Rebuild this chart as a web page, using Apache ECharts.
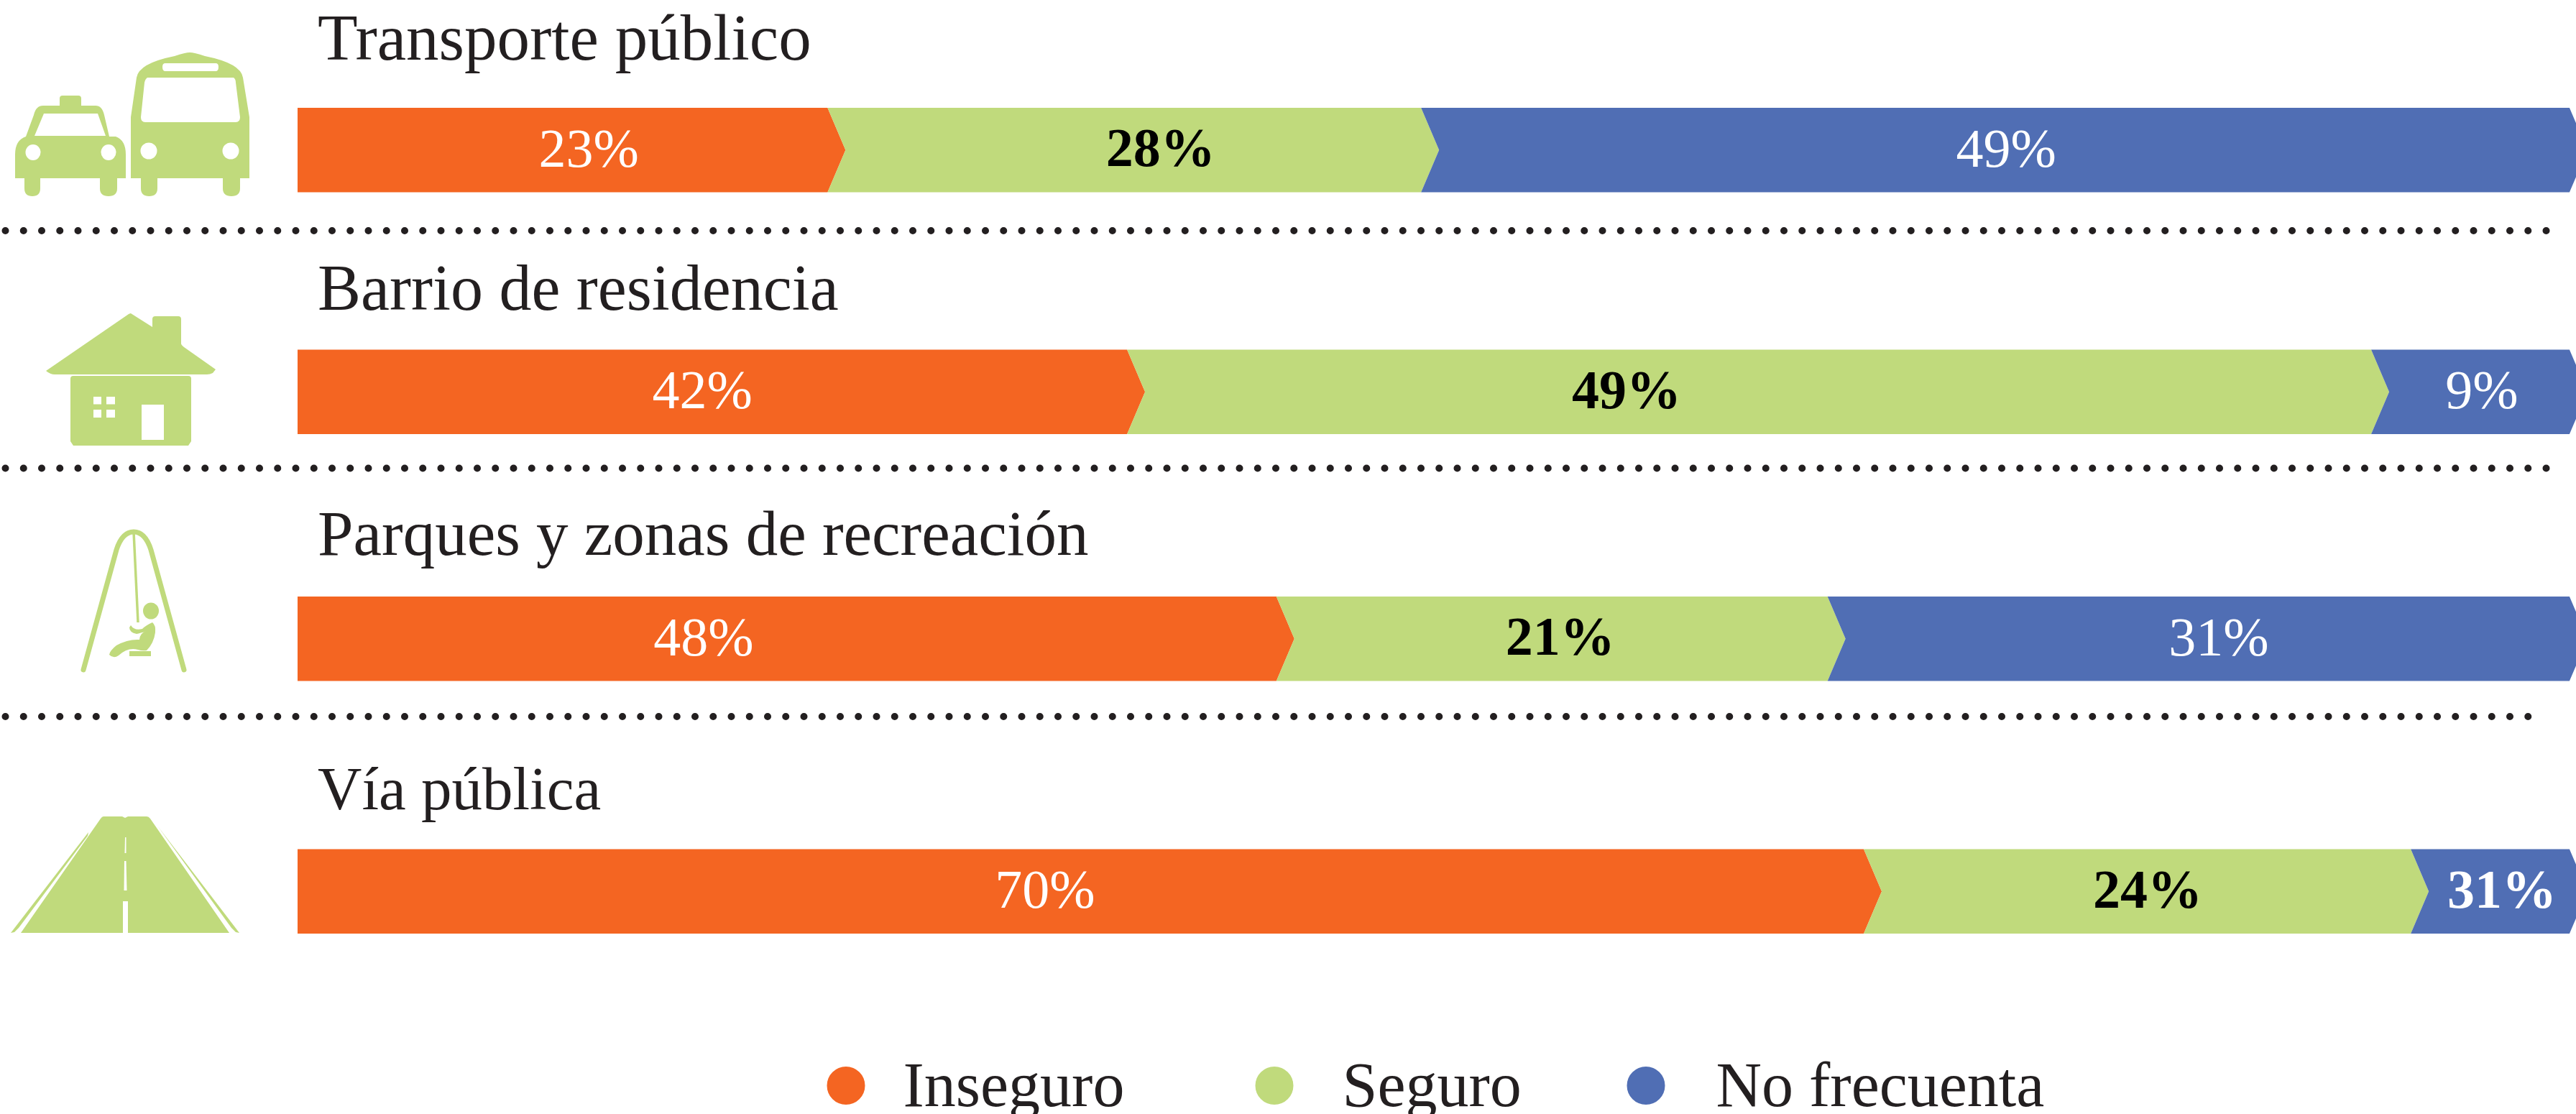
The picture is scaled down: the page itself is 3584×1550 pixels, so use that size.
<!DOCTYPE html>
<html>
<head>
<meta charset="utf-8">
<script src="https://cdn.jsdelivr.net/npm/echarts@6/dist/echarts.min.js"></script>
<style>html,body{margin:0;padding:0;background:#fff}#c{width:3584px;height:1550px}</style>
</head>
<body>
<div id="c"></div>
<script>
// ---- data ----
const categories = ['Transporte público', 'Barrio de residencia', 'Parques y zonas de recreación', 'Vía pública'];
const seriesNames = ['Inseguro', 'Seguro', 'No frecuenta'];
// drawn lengths of the segments (share of the full bar)
const inseguro = [23.93, 37.01, 43.53, 69.18];
const seguro = [25.92, 54.33, 24.07, 23.89];
const noFrecuenta = [50.15, 8.66, 32.40, 6.93];
// labels as printed on the picture
const inseguroLabels = ['23%', '42%', '48%', '70%'];
const seguroLabels = ['28%', '49%', '21%', '24%'];
const noFrecuentaLabels = ['49%', '9%', '31%', '31%'];

// ---- layout and style ----
const SERIF = '"Liberation Serif", serif';
const COLORS = ['#F46522', '#C0DA7C', '#506EB4'];
const INK = '#231F20';
const GREEN = COLORS[1];
const BAR_TOPS = [150, 486.5, 830, 1181.5];
const BAR_HEIGHT = 117.5;
const BAR_LEFT = 414, AXIS_MAX = 99.5, TIP = 25;
const TITLE_TOPS = [14, 362, 704, 1061];
const TITLE_SIZES = [91, 90, 89, 85];
const DOT_ROWS = [[321, 3564], [651.5, 3564], [997, 3539]];
const LABEL_SHIFT = [[24, 25.5, -10], [-26.5, -195.5, -9], [-128.5, -13.5, 3], [-62, -10.5, -8.5]];
const LABEL_STYLE = [
  { fill: '#fff', fontWeight: 'normal' },
  { fill: '#000', fontWeight: 'bold' },
  { fill: '#fff', fontWeight: 'normal' }
];
const LEGEND_LEFT = [1150.5, 1746.5, 2263.5];
const LEGEND_TEXT_GAP = [48, 63, 66];
// circle sitting in the upper part of a taller box, so the dot centres slightly above the text line
const LEGEND_ICON = 'path://M26.5 63L26.51 63ZM0 26.5A26.5 26.5 0 1 1 53 26.5A26.5 26.5 0 1 1 0 26.5Z';

const values = [inseguro, seguro, noFrecuenta];
const labels = [inseguroLabels, seguroLabels, noFrecuentaLabels];

function segmentRenderer(row, seg) {
  return function (params, api) {
    const x0 = api.coord([api.value(0), 0])[0];
    const x1 = api.coord([api.value(1), 0])[0];
    const mid = api.coord([0, 0])[1];
    const h = api.size([0, 1])[1];
    const top = mid - h / 2, bot = mid + h / 2;
    const pts = seg === 0
      ? [[x0, top], [x1 - TIP, top], [x1, mid], [x1 - TIP, bot], [x0, bot]]
      : [[x0 - TIP, top], [x1 - TIP, top], [x1, mid], [x1 - TIP, bot], [x0 - TIP, bot], [x0, mid]];
    const strong = row === 3 && seg === 2;
    return {
      type: 'group',
      children: [
        { type: 'polygon', shape: { points: pts }, style: { fill: api.visual('color') } },
        {
          type: 'text',
          z2: 10,
          style: {
            x: (x0 + x1) / 2 + LABEL_SHIFT[row][seg],
            y: mid + 3,
            text: labels[seg][row],
            align: 'center',
            verticalAlign: 'middle',
            font: (strong ? 'bold' : LABEL_STYLE[seg].fontWeight) + ' 76px ' + SERIF,
            fill: LABEL_STYLE[seg].fill
          }
        }
      ]
    };
  };
}

const grids = [], xAxes = [], yAxes = [], series = [], titles = [];
categories.forEach(function (cat, row) {
  grids.push({ left: BAR_LEFT, right: 0, top: BAR_TOPS[row], height: BAR_HEIGHT, containLabel: false });
  xAxes.push({ type: 'value', gridIndex: row, min: 0, max: AXIS_MAX, show: false });
  yAxes.push({ type: 'category', gridIndex: row, data: [cat], show: false });
  titles.push({
    text: cat, left: 442, top: TITLE_TOPS[row], padding: 0,
    textStyle: { fontFamily: SERIF, fontSize: TITLE_SIZES[row], fontWeight: 'normal', color: INK }
  });
  let start = 0;
  seriesNames.forEach(function (name, seg) {
    const end = start + values[seg][row];
    series.push({
      type: 'custom',
      name: name,
      xAxisIndex: row,
      yAxisIndex: row,
      coordinateSystem: 'cartesian2d',
      clip: false,
      silent: true,
      itemStyle: { color: COLORS[seg] },
      encode: { x: [0, 1], y: 2 },
      data: [[start, end, 0]],
      renderItem: segmentRenderer(row, seg)
    });
    start = end;
  });
});

const legends = seriesNames.map(function (name, i) {
  return {
    data: [name], left: LEGEND_LEFT[i], top: 1471.5, padding: 0,
    icon: LEGEND_ICON, itemWidth: 53, itemHeight: 63, selectedMode: false,
    textStyle: { fontFamily: SERIF, fontSize: 88, color: INK, padding: [0, 0, 0, LEGEND_TEXT_GAP[i]] }
  };
});

// ---- pictograms ----
function ell(cx, cy, rx, ry) {
  return 'M' + (cx - rx) + ' ' + cy + 'A' + rx + ' ' + ry + ' 0 1 1 ' + (cx + rx) + ' ' + cy +
         'A' + rx + ' ' + ry + ' 0 1 1 ' + (cx - rx) + ' ' + cy + 'Z';
}
function rect(x0, y0, x1, y1) {
  return 'M' + x0 + ' ' + y0 + 'L' + x1 + ' ' + y0 + 'L' + x1 + ' ' + y1 + 'L' + x0 + ' ' + y1 + 'Z';
}
const GREEN_PATHS = [
  // taxi
  'M83 147L83 137Q83 133 87 133L109 133Q113 133 113 137L113 147L133 147Q142 147 145 160L152 190L161 190Q175 195 175 215L175 248L163 248L163 262Q163 273 151 273Q139 273 139 262L139 248L56 248L56 262Q56 273 45 273Q34 273 34 262L34 248L21 248L21 215Q21 195 36 190L47 160Q50 147 60 147Z',
  // bus
  'M264 73Q270 73 285 78Q335 88 338 108L347 163L347 248L334 248L334 262Q334 273 322 273Q310 273 310 262L310 248L219 248L219 262Q219 273 207.5 273Q196 273 196 262L196 248L182 248L182 163L190 108Q193 88 243 78Q258 73 264 73Z',
  // house
  'M182 436L212 455L212 444Q212 440 216 440L248 440Q252 440 252 444L252 478Q252 480 256 483L300 514L296 519Q292 521 288 521L76 521Q70 521 64 516L179 437Q181 436 182 436Z',
  'M102 523L262 523Q266 523 266 527L266 614L262 620L102 620L98 614L98 527Q98 523 102 523Z',
  // swing child and seat
  ell(210, 850, 11, 11.5),
  'M182 870Q187 878 198 875Q203 870 212 866Q217 870 216 880Q214 895 204 905Q198 906 192 904Q178 900 165 912Q158 917 152 911Q153 905 162 898Q178 889 194 890Q195 880 204 878Q195 881 190 882Q180 880 180 873Z',
  rect(180, 906, 210, 913),
  // road
  'M144 1136L170 1136L174 1138L178 1136L204 1136Q207 1136 209 1139L319 1298L29 1298L140 1139Q142 1136 144 1136Z',
  'M123 1158L15 1298L20 1297L26 1291L122 1163Z',
  'M219 1149L333 1298L328 1297L322 1291Z'
];
const WHITE_PATHS = [
  'M61 158L136 158L147 189L48 189Z',
  ell(46, 212, 10.5, 11), ell(151, 212, 10.5, 11),
  'M205 108L325 108Q328 110 328 115L334 163Q334 170 328 170L202 170Q196 170 196 163L201 115Q202 110 205 108Z',
  'M230 88L300 88Q304 88 304 93Q304 99 300 99L230 99Q226 99 226 93Q226 88 230 88Z',
  ell(207, 210, 11.5, 11.5), ell(321, 210, 11.5, 11.5),
  rect(130, 552, 141, 562.5), rect(148, 552, 160, 562.5),
  rect(130, 570, 141, 581), rect(148, 570, 160, 581),
  rect(197, 563, 228, 612),
  'M171 1254L178 1254L178 1298L171 1298Z',
  'M173 1198L175.5 1198L176.5 1239L172.5 1239Z',
  'M174 1165L175.5 1165L175.5 1187L173.5 1187Z'
];
const SWING_FRAME = 'M116 932L162 765Q170 740 186 740Q202 740 210 765L256 932';
const SWING_ROPE = 'M186 740L192 866';

// pictograms are a dataless decoration drawn by their own custom series
series.push({
  type: 'custom',
  name: 'pictogramas',
  coordinateSystem: 'none',
  silent: true,
  z: 1,
  data: [[0]],
  renderItem: function () {
    const kids = [];
    GREEN_PATHS.forEach(function (d) {
      kids.push({ type: 'path', shape: { pathData: d }, style: { fill: GREEN } });
    });
    WHITE_PATHS.forEach(function (d) {
      kids.push({ type: 'path', shape: { pathData: d }, style: { fill: '#fff' } });
    });
    kids.push({ type: 'path', shape: { pathData: SWING_FRAME }, style: { fill: 'none', stroke: GREEN, lineWidth: 7, lineCap: 'round' } });
    kids.push({ type: 'path', shape: { pathData: SWING_ROPE }, style: { fill: 'none', stroke: GREEN, lineWidth: 3.5 } });
    return { type: 'group', children: kids };
  }
});

// dotted separators
const graphics = DOT_ROWS.map(function (r) {
  return {
    type: 'line', silent: true, z: 1,
    shape: { x1: 7.5, y1: r[0], x2: r[1], y2: r[0] },
    style: { stroke: INK, lineWidth: 10, lineCap: 'round', lineDash: [0.01, 25.24] }
  };
});

const chart = echarts.init(document.getElementById('c'), null, { renderer: 'canvas', width: 3584, height: 1550 });
chart.setOption({
  animation: false,
  backgroundColor: '#fff',
  title: titles,
  legend: legends,
  grid: grids,
  xAxis: xAxes,
  yAxis: yAxes,
  series: series,
  graphic: { elements: graphics }
});
</script>
</body>
</html>
